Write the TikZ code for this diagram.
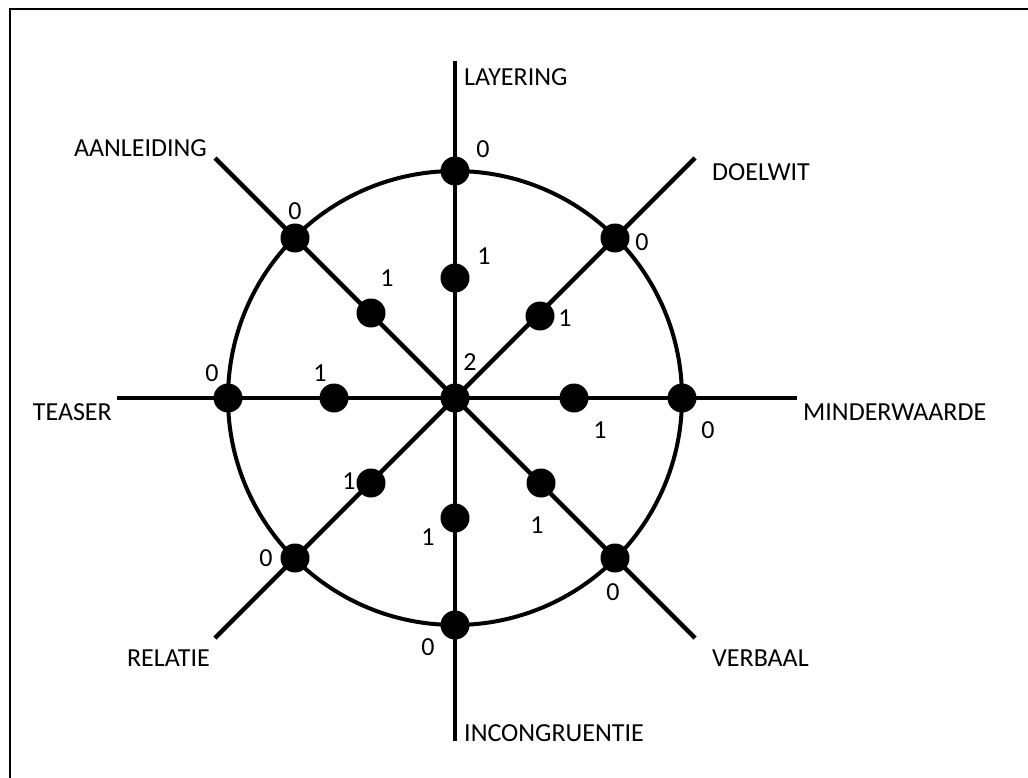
\documentclass[tikz,border=0pt]{standalone}
\usepackage{fontspec}
\setmainfont{Carlito}
\begin{document}
\begin{tikzpicture}[x=1pt,y=-1pt,
  axis/.style={line width=4.5pt},
  ring/.style={line width=4pt},
  dot/.style={circle,fill=black,inner sep=0pt,minimum size=29pt},
  lab/.style={inner sep=0pt,font=\fontsize{26}{30}\selectfont},
  num/.style={inner sep=0pt,font=\fontsize{26}{30}\selectfont}]
\useasboundingbox (0,0) rectangle (1028,778);
\fill[white] (0,0) rectangle (1028,778);
% frame (top and left edges)
\coordinate (fa) at (10,778);
\coordinate (fb) at (10,9);
\coordinate (fc) at (1028,9);
\draw[line width=2.5pt] (fa) -- (fb) -- (fc);
% centre
\coordinate (c) at (455,398);
% axis ends
\coordinate (eN) at (455,61);
\coordinate (eS) at (455,741);
\coordinate (eW) at (117,398);
\coordinate (eE) at (797,398);
\coordinate (eNW) at (215,158);
\coordinate (eNE) at (695,158);
\coordinate (eSW) at (215,638);
\coordinate (eSE) at (695,638);
\draw[ring] (c) circle[radius=227];
\draw[axis] (eN) -- (eS);
\draw[axis] (eW) -- (eE);
\draw[axis] (eNW) -- (eSE);
\draw[axis] (eNE) -- (eSW);
% dots on circle
\node[dot] (oN) at (455,171) {};
\node[dot] (oS) at (455,625) {};
\node[dot] (oW) at (228,398) {};
\node[dot] (oE) at (682,398) {};
\node[dot] (oNW) at (295,238) {};
\node[dot] (oNE) at (615,238) {};
\node[dot] (oSW) at (295,558) {};
\node[dot] (oSE) at (615,558) {};
% inner dots
\node[dot] (iN) at (455,278) {};
\node[dot] (iS) at (455,518) {};
\node[dot] (iW) at (334,398) {};
\node[dot] (iE) at (574,398) {};
\node[dot] (iNW) at (371,313) {};
\node[dot] (iNE) at (540,316) {};
\node[dot] (iSW) at (371,483) {};
\node[dot] (iSE) at (541,483) {};
\node[dot] (cd) at (c) {};
% numbers
\node[num] (n0N) at (483,149) {0};
\node[num] (n1N) at (484,256) {1};
\node[num] (n0NW) at (295,211) {0};
\node[num] (n1NW) at (387,278) {1};
\node[num] (n0NE) at (642,242) {0};
\node[num] (n1NE) at (565,318) {1};
\node[num] (n2) at (470,362) {2};
\node[num] (n0W) at (212,373) {0};
\node[num] (n1W) at (320,373) {1};
\node[num] (n1E) at (600,430) {1};
\node[num] (n0E) at (708,430) {0};
\node[num] (n1SW) at (349,481) {1};
\node[num] (n1S) at (428,537) {1};
\node[num] (n0SW) at (266,558) {0};
\node[num] (n0S) at (428,647) {0};
\node[num] (n1SE) at (537,525) {1};
\node[num] (n0SE) at (613,592) {0};
% axis labels
\node[lab,anchor=west] (tN) at (464,77) {LAYERING};
\node[lab,anchor=east] (tNW) at (207,148) {AANLEIDING};
\node[lab,anchor=west] (tNE) at (712,172) {DOELWIT};
\node[lab,anchor=east] (tW) at (112,412) {TEASER};
\node[lab,anchor=west] (tE) at (803,412) {MINDERWAARDE};
\node[lab,anchor=east] (tSW) at (210,658) {RELATIE};
\node[lab,anchor=west] (tSE) at (712,658) {VERBAAL};
\node[lab,anchor=west] (tS) at (464,733) {INCONGRUENTIE};
\end{tikzpicture}
\end{document}
